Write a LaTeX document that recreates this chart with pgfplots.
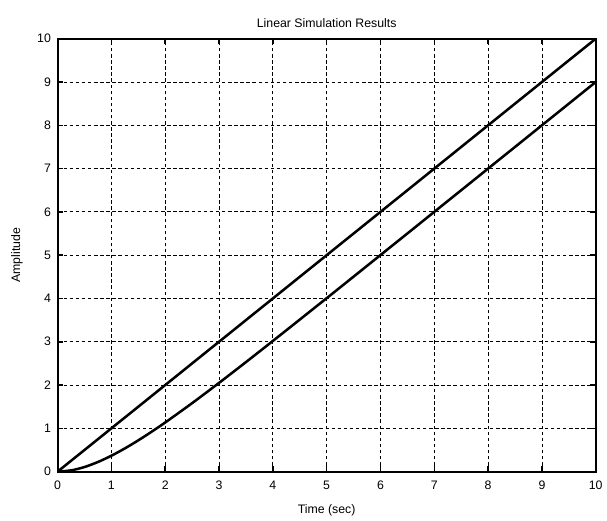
\documentclass[border=0pt]{standalone}
\usepackage{pgfplots}
\pgfplotsset{compat=1.18}
\usepackage{fontspec}
\setmainfont{Liberation Sans}
\begin{document}
\begin{tikzpicture}
\begin{axis}[
    scale only axis,
    width=406.5pt, height=327pt,
    xmin=0, xmax=10, ymin=0, ymax=10,
    xtick={0,...,10}, ytick={0,...,10},
    grid=major,
    grid style={black, dash pattern=on 2.6pt off 2pt, line width=0.6pt},
    tick align=inside,
    major tick length=4pt,
    tick style={black, line width=1.2pt},
    axis line style={black, line width=1.6pt},
    font=\fontsize{9.3}{11}\selectfont,
    /pgf/number format/assume math mode=true,
    xticklabel style={anchor=base, yshift=-13.5pt},
    yticklabel style={anchor=east, xshift=-1.5pt},
    title={Linear Simulation Results},
    every axis title/.style={at={(axis description cs:0.5,1)}, anchor=base, yshift=8.25pt},
    xlabel={Time (sec)},
    ylabel={Amplitude},
    every axis x label/.style={at={(axis description cs:0.5,0)}, anchor=base, yshift=-31.5pt},
    every axis y label/.style={at={(axis description cs:0,0.5)}, rotate=90, anchor=center, yshift=30.75pt},
]
\addplot[black, line width=1.9pt, no marks] coordinates {(0,0)(10,10)};
\addplot[black, line width=1.9pt, no marks, smooth] coordinates {
(0,0)(0.25,0.0288)(0.5,0.1065)(0.75,0.2224)(1,0.3679)(1.25,0.5365)(1.5,0.7231)
(1.75,0.9238)(2,1.1353)(2.5,1.5821)(3,2.0498)(3.5,2.5302)(4,3.0183)(5,4.0067)
(6,5.0025)(7,6.0009)(8,7.0003)(10,9.0000)
};
\end{axis}
\useasboundingbox ([xshift=-43.5pt, yshift=-36pt]current axis.south west) rectangle ([xshift=5.25pt, yshift=29.25pt]current axis.north east);
\end{tikzpicture}
\end{document}
